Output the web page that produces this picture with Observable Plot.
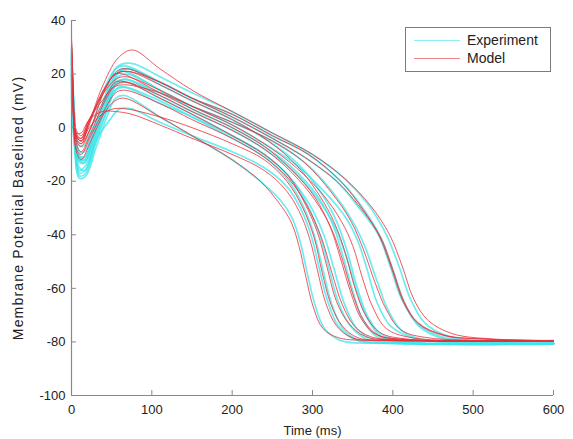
<!DOCTYPE html>
<html>
<head>
<meta charset="utf-8">
<script src="https://cdn.jsdelivr.net/npm/d3@7"></script>
<script src="https://cdn.jsdelivr.net/npm/@observablehq/plot@0.6"></script>
<style>
  html, body { margin: 0; padding: 0; background: #fff; }
  #wrap { position: relative; width: 573px; height: 439px; font-family: "Liberation Sans", Arial, sans-serif; }
  #legend { position: absolute; left: 405px; top: 27px; width: 144px; height: 43px; border: 1px solid #7c7c7c; background: #fff; }
  .row { position: absolute; left: 0; height: 18px; display: flex; align-items: center; font-size: 14px; color: #222; }
  .sw { width: 46px; height: 0; margin-left: 8px; margin-right: 7px; }
</style>
</head>
<body>
<div id="wrap"></div>
<script>
// Axis ticks
const xTicks = [0, 100, 200, 300, 400, 500, 600];
const yTicks = [-100, -80, -60, -40, -20, 0, 20, 40];

// Series names and colours
const seriesNames = ["Experiment", "Model"];
const seriesColors = ["#3fe6ea", "#e8303a"];

// Experiment traces: [time (ms), potential (mV)]
const experimentTraces = [
  [[0,28],[3,10],[8,-6],[14,-7],[25,0],[40,14],[58,23],[75,24],[110,19],[150,13],[200,6],[250,-2],[300,-10],[340,-19],[370,-29],[392,-40],[408,-52],[422,-64],[440,-73],[470,-78],[520,-80],[600,-80.5]],
  [[0,22],[3,5],[9,-12],[16,-13],[28,-2],[42,12],[55,22],[68,23],[110,17],[150,11],[200,4],[250,-4],[290,-11],[330,-20],[358,-30],[382,-40],[397,-52],[411,-64],[430,-73],[460,-78],[510,-80],[600,-80.5]],
  [[0,30],[3,8],[10,-15],[17,-16],[30,-4],[45,10],[58,19],[70,20],[110,14],[150,8],[200,1],[240,-6],[280,-14],[315,-24],[340,-33],[356,-42],[368,-53],[380,-65],[397,-74],[430,-79],[490,-80.3],[600,-80.5]],
  [[0,18],[3,-2],[10,-18],[18,-17],[30,-6],[45,8],[57,17],[68,18],[110,12],[150,6],[200,-1],[240,-8],[275,-16],[305,-26],[328,-37],[342,-48],[354,-60],[368,-71],[385,-78],[420,-80.2],[600,-80.6]],
  [[0,25],[3,6],[9,-10],[16,-11],[28,-1],[42,11],[55,20],[65,21],[110,14],[150,7],[200,0],[240,-7],[275,-15],[305,-25],[325,-36],[338,-48],[350,-61],[363,-72],[380,-78],[415,-80.2],[600,-80.6]],
  [[0,20],[3,0],[10,-17],[17,-16],[30,-5],[44,6],[55,14],[66,15],[110,9],[150,4],[200,-3],[240,-10],[270,-18],[295,-28],[314,-40],[327,-53],[340,-66],[355,-75],[375,-79],[420,-80.4],[600,-80.6]],
  [[0,15],[3,-4],[10,-19],[18,-18],[30,-8],[44,4],[55,11],[66,12],[110,4],[150,-3],[200,-12],[235,-20],[260,-27],[275,-34],[285,-43],[294,-55],[303,-66],[315,-75],[335,-79.5],[380,-80.5],[600,-80.8]],
  [[0,24],[3,4],[10,-13],[17,-13],[30,-3],[44,9],[56,16],[68,17],[110,11],[150,5],[200,-3],[240,-10],[270,-18],[292,-28],[308,-39],[320,-52],[332,-65],[347,-74],[368,-79],[410,-80.4],[600,-80.7]],
  [[0,20],[3,2],[10,-9],[16,-9],[28,0],[42,10],[55,17],[68,18],[110,13],[150,8],[200,2],[250,-5],[290,-13],[325,-24],[350,-35],[366,-45],[380,-57],[394,-68],[412,-76],[445,-79.5],[600,-80.5]],
  [[0,27],[3,7],[10,-11],[17,-12],[30,-2],[45,11],[60,21],[72,22],[110,16],[150,10],[200,3],[245,-5],[280,-13],[310,-24],[330,-35],[343,-46],[355,-59],[368,-70],[385,-77],[420,-80],[600,-80.6]],
  [[0,12],[3,-3],[10,-16],[18,-14],[32,-4],[48,3],[60,7],[75,7],[110,2],[150,-3],[200,-9],[240,-15],[268,-22],[285,-30],[298,-40],[308,-52],[318,-64],[332,-74],[352,-79],[400,-80.5],[600,-80.8]],
  [[0,22],[3,3],[10,-12],[17,-12],[30,-2],[45,9],[58,15],[70,15],[110,10],[150,4],[200,-4],[240,-11],[268,-19],[288,-29],[302,-40],[313,-53],[324,-66],[338,-75],[358,-79.5],[400,-80.5],[600,-80.7]],
  [[0,26],[3,5],[10,-11],[17,-11],[30,0],[45,12],[58,21],[70,22],[110,17],[150,11],[200,5],[250,-3],[295,-10],[335,-20],[365,-31],[385,-41],[400,-53],[414,-65],[432,-74],[465,-79],[600,-80.4]]
];

// Model traces: [time (ms), potential (mV)]
const modelTraces = [
  [[0,34],[2,18],[6,-2],[12,-4],[22,2],[38,15],[58,26],[76,29],[110,22],[150,14],[200,6],[250,-2],[300,-10],[340,-19],[372,-29],[396,-40],[412,-52],[426,-64],[444,-72],[475,-77],[530,-79],[600,-79.5]],
  [[0,30],[2,14],[6,-4],[12,-6],[24,0],[40,13],[56,21],[68,22],[110,17],[150,11],[200,4],[250,-4],[290,-11],[330,-20],[360,-30],[385,-41],[400,-53],[414,-65],[432,-73],[465,-77.5],[520,-79],[600,-79.5]],
  [[0,33],[2,16],[6,-1],[12,-3],[22,3],[38,12],[55,18],[68,19],[110,14],[150,8],[200,1],[240,-6],[280,-15],[313,-25],[336,-35],[350,-44],[362,-56],[375,-67],[392,-75],[425,-78.5],[600,-79.5]],
  [[0,28],[2,10],[6,-6],[12,-9],[24,-2],[40,9],[55,16],[68,17],[110,12],[150,6],[200,-1],[240,-8],[275,-17],[303,-27],[324,-38],[338,-50],[350,-62],[364,-72],[382,-77.5],[420,-79.2],[600,-79.6]],
  [[0,31],[2,12],[6,-3],[12,-5],[22,2],[38,12],[54,20],[64,20],[110,13],[150,7],[200,0],[240,-7],[275,-16],[303,-26],[322,-37],[335,-49],[347,-61],[360,-71],[378,-77],[412,-79],[600,-79.6]],
  [[0,26],[2,8],[6,-8],[12,-10],[24,-3],[40,6],[55,13],[66,14],[110,9],[150,3],[200,-4],[240,-11],[270,-19],[293,-29],[311,-41],[324,-54],[337,-66],[352,-74],[372,-78],[415,-79.3],[600,-79.6]],
  [[0,22],[2,6],[6,-9],[12,-12],[24,-5],[40,5],[54,10],[66,11],[110,4],[150,-3],[200,-12],[235,-20],[258,-28],[273,-35],[283,-44],[292,-56],[301,-67],[313,-75],[333,-78.5],[380,-79.4],[600,-79.7]],
  [[0,29],[2,11],[6,-5],[12,-7],[24,0],[40,10],[55,17],[68,17],[110,11],[150,5],[200,-3],[240,-10],[270,-18],[290,-28],[306,-39],[318,-52],[330,-65],[345,-73],[366,-78],[405,-79.3],[600,-79.6]],
  [[0,27],[2,10],[6,-3],[12,-4],[22,3],[38,10],[52,15],[66,16],[110,13],[150,8],[200,2],[250,-5],[290,-13],[323,-24],[348,-35],[364,-46],[378,-58],[392,-68],[410,-75.5],[445,-78.5],[600,-79.4]],
  [[0,32],[2,14],[6,-4],[12,-6],[22,1],[38,13],[55,20],[70,21],[110,16],[150,10],[200,3],[245,-5],[280,-14],[308,-25],[328,-36],[341,-47],[353,-60],[366,-70],[384,-76.5],[420,-79],[600,-79.5]],
  [[0,20],[2,5],[6,-2],[12,-2],[22,3],[38,6],[55,6],[75,5],[110,1],[150,-4],[200,-10],[240,-16],[266,-23],[283,-31],[296,-41],[306,-53],[316,-65],[330,-74],[350,-78.5],[400,-79.5],[600,-79.7]],
  [[0,25],[2,9],[6,-3],[12,-5],[22,0],[38,5],[52,7],[68,7],[110,4],[150,0],[200,-6],[240,-12],[268,-20],[288,-30],[302,-41],[312,-54],[323,-66],[337,-74],[357,-78.5],[400,-79.4],[600,-79.6]],
  [[0,30],[2,13],[6,-3],[12,-5],[22,2],[38,13],[55,20],[70,21],[110,17],[150,11],[200,5],[250,-3],[295,-10],[335,-20],[364,-31],[384,-41],[399,-53],[413,-65],[431,-73],[462,-77.5],[520,-79],[600,-79.5]]
];

function toRows(traces, name) {
  const rows = [];
  traces.forEach((tr, i) => tr.forEach(([t, v]) => rows.push({id: name + i, t, v})));
  return rows;
}
const expRows = toRows(experimentTraces, "e");
const modRows = toRows(modelTraces, "m");

const axisColor = "#888888";
const fmt = d => String(d);

const chart = Plot.plot({
  width: 573,
  height: 439,
  marginLeft: 71,
  marginRight: 20,
  marginTop: 20,
  marginBottom: 44,
  style: {fontFamily: "'Liberation Sans', Arial, sans-serif", fontSize: "13px", color: "#222", background: "#fff"},
  x: {domain: [0, 600]},
  y: {domain: [-100, 40]},
  marks: [
    Plot.line(expRows, {x: "t", y: "v", z: "id", stroke: seriesColors[0], strokeWidth: 1.7, strokeOpacity: 0.75, curve: "catmull-rom"}),
    Plot.line(modRows, {x: "t", y: "v", z: "id", stroke: seriesColors[1], strokeWidth: 1, strokeOpacity: 0.8, curve: "catmull-rom"}),
    Plot.ruleX([0], {stroke: axisColor, strokeWidth: 1.2}),
    Plot.ruleY([-100], {stroke: axisColor, strokeWidth: 1.2}),
    Plot.axisX({ticks: xTicks, tickFormat: fmt, tickSize: -5, tickPadding: 14, stroke: axisColor, label: "Time (ms)", labelAnchor: "center", labelArrow: "none", labelOffset: 39, fill: "#222"}),
    Plot.axisY({ticks: yTicks, tickFormat: fmt, tickSize: -5, tickPadding: 11, stroke: axisColor, label: "Membrane Potential Baselined (mV)", labelAnchor: "center", labelArrow: "none", labelOffset: 58, fill: "#222"})
  ]
});

const wrap = document.getElementById("wrap");
wrap.appendChild(chart);

// y-axis label spacing to match the reference
d3.select(chart).selectAll("g[aria-label='y-axis label'] text").style("letter-spacing", "1.2px").style("font-size", "14px");

// Legend
const legend = document.createElement("div");
legend.id = "legend";
seriesNames.forEach((name, i) => {
  const row = document.createElement("div");
  row.className = "row";
  row.style.top = (i === 0 ? 3 : 21) + "px";
  const sw = document.createElement("div");
  sw.className = "sw";
  sw.style.borderTop = "1.5px solid " + seriesColors[i];
  sw.style.opacity = "0.6";
  const lab = document.createElement("span");
  lab.textContent = name;
  row.appendChild(sw);
  row.appendChild(lab);
  legend.appendChild(row);
});
wrap.appendChild(legend);
</script>
</body>
</html>
